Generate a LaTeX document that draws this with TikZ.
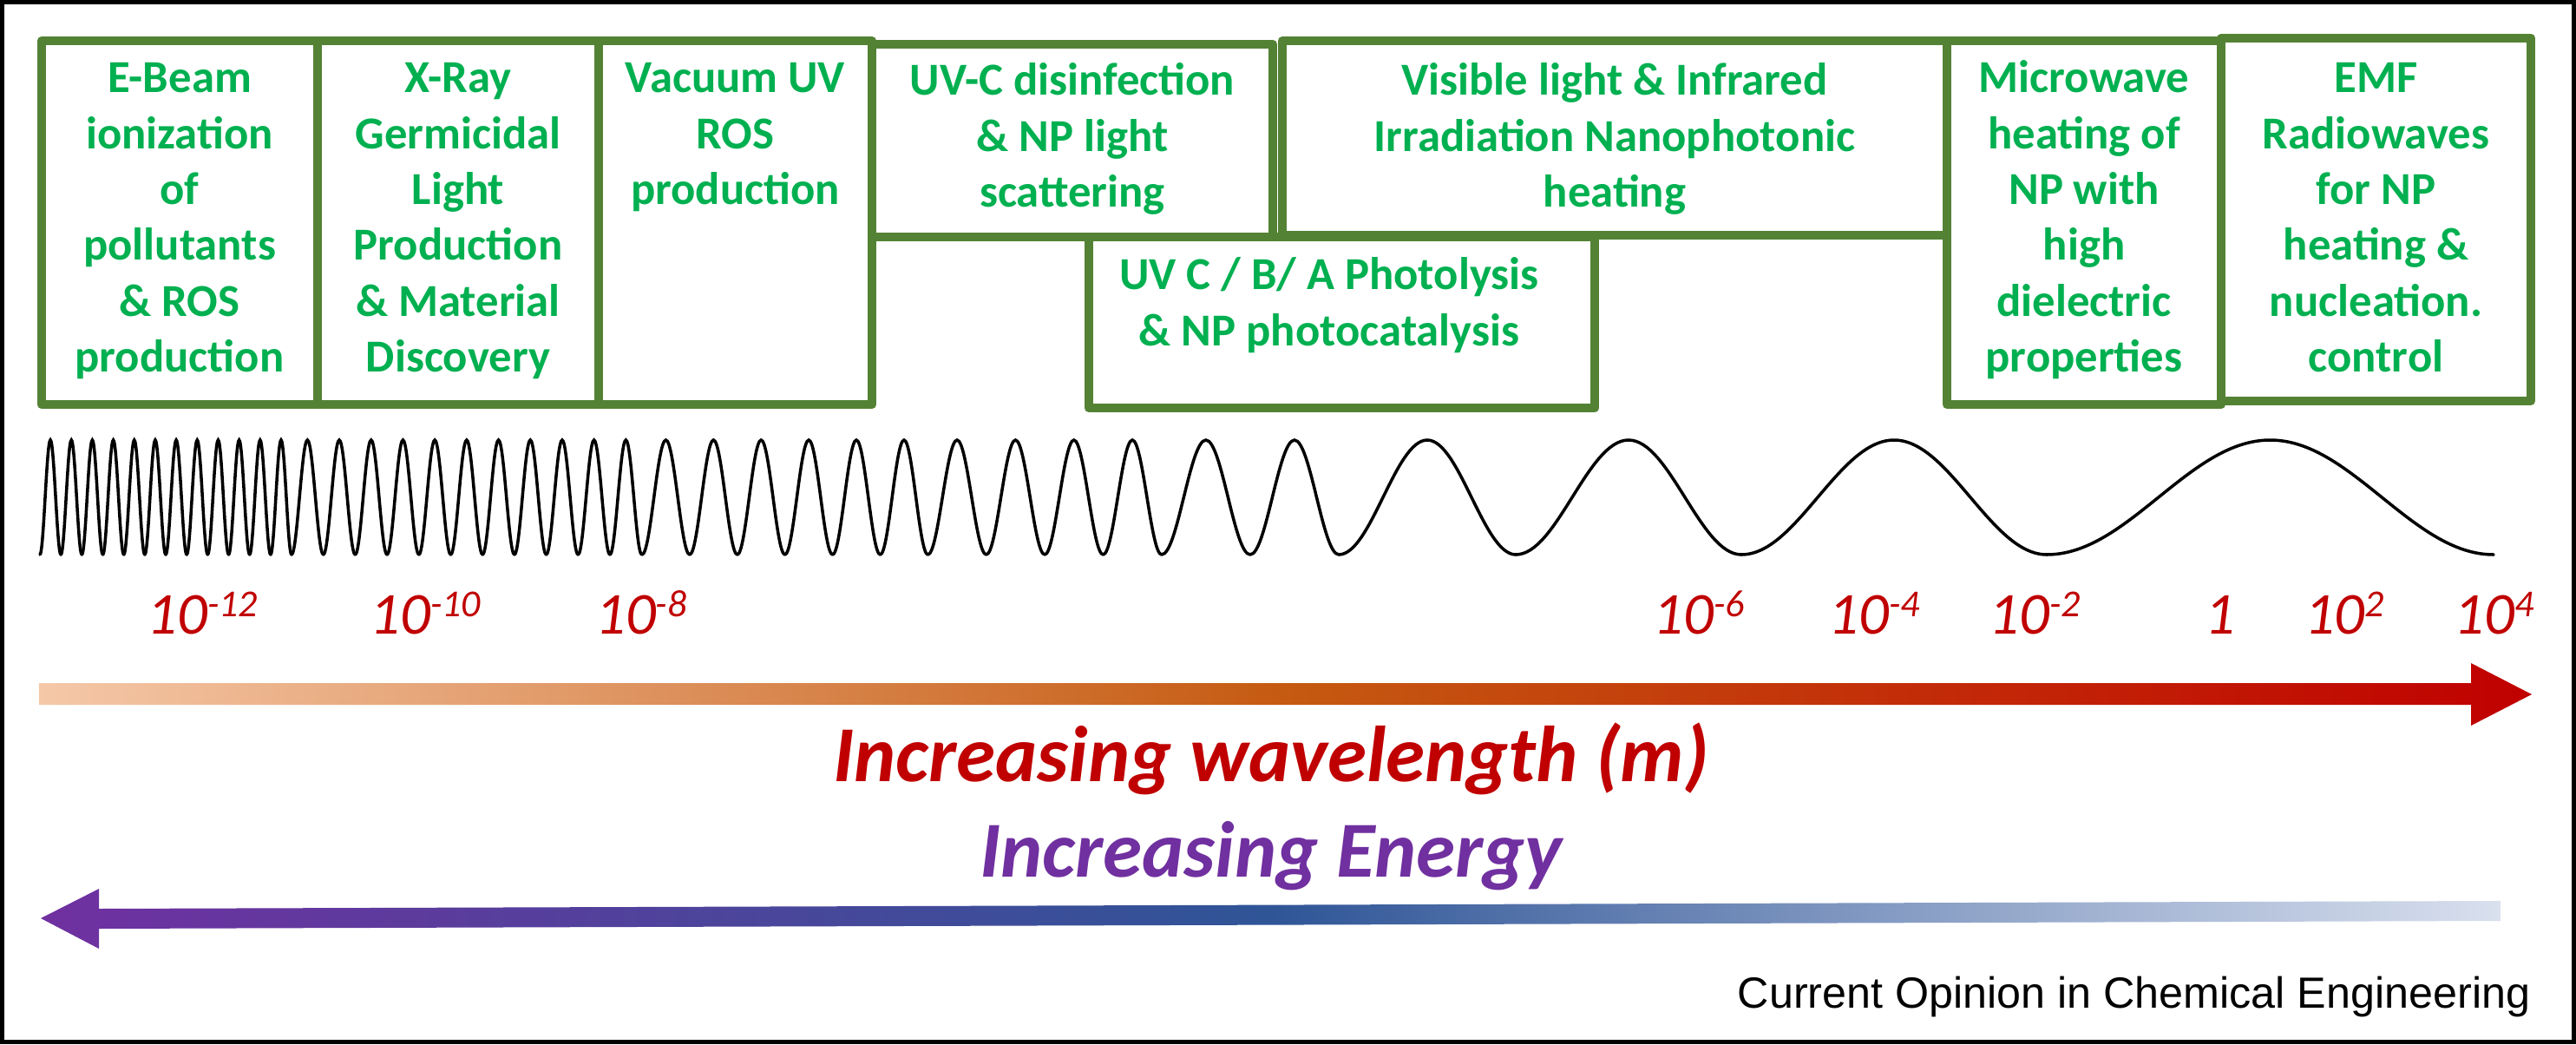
\documentclass[tikz,border=0pt]{standalone}
\usepackage{fontspec}
\setmainfont{Carlito}
\newfontfamily\creditfont{Liberation Sans}
\usetikzlibrary{positioning}

\definecolor{boxgreen}{HTML}{548235}
\definecolor{txtgreen}{HTML}{00B050}
\definecolor{darkred}{HTML}{C00000}
\definecolor{peach}{HTML}{F5C8A8}
\definecolor{rust}{HTML}{C55A11}
\definecolor{energypurple}{HTML}{7030A0}
\definecolor{navy}{HTML}{2F5597}
\definecolor{paleblue}{HTML}{D9E0EE}

\newcommand{\expo}[1]{\raisebox{5.5pt}{\fontsize{12.5}{13}\selectfont#1}}

\begin{document}
\begin{tikzpicture}[x=1cm,y=-1cm,
    panel/.style={draw=boxgreen,line width=3pt,line join=round},
    paneltext/.style={font=\bfseries\fontsize{15}{18.3}\selectfont,text=txtgreen,align=center,anchor=base,inner sep=0pt},
    wl/.style={font=\itshape\fontsize{19.5}{23}\selectfont,text=darkred,anchor=base,inner sep=0pt},
    bigtext/.style={font=\bfseries\itshape\fontsize{26}{31}\selectfont,anchor=base,inner sep=0pt},
    wave/.style={line width=1pt,line cap=round}]
    \useasboundingbox (0,0) rectangle (29.69,12.03);
    \fill[white] (0,0) rectangle (29.69,12.03);
    \draw[line width=0.05cm] (0.025,0.025) rectangle (29.665,12.005);

    % application boxes
    \draw[panel] (0.48,0.47) rectangle (3.66,4.66);
    \draw[panel] (3.66,0.47) rectangle (6.90,4.66);
    \draw[panel] (6.90,0.47) rectangle (10.05,4.66);
    \draw[panel] (10.05,0.51) rectangle (14.67,2.73);
    \draw[panel] (14.78,0.47) rectangle (22.44,2.71);
    \draw[panel] (12.55,2.73) rectangle (18.38,4.70);
    \draw[panel] (22.44,0.47) rectangle (25.60,4.66);
    \draw[panel] (25.60,0.44) rectangle (29.17,4.62);

    % text anchored at the baseline of its last line
    \node[paneltext] (ebeam) at (2.07,4.285) {E-Beam\\ionization\\of\\pollutants\\\& ROS\\production};
    \node[paneltext] (xray) at (5.28,4.285) {X-Ray\\Germicidal\\Light\\Production\\\& Material\\Discovery};
    \node[paneltext] (vacuv) at (8.475,2.355) {Vacuum UV\\ROS\\production};
    \node[paneltext] (uvc) at (12.36,2.385) {UV-C disinfection\\\& NP light\\scattering};
    \node[paneltext] (visir) at (18.61,2.385) {Visible light \& Infrared\\Irradiation Nanophotonic\\heating};
    \node[paneltext] (uvcba) at (15.32,3.98) {UV C / B/ A Photolysis\\\& NP photocatalysis};
    \node[paneltext] (microw) at (24.02,4.285) {Microwave\\heating of\\NP with\\high\\dielectric\\properties};
    \node[paneltext] (emf) at (27.385,4.285) {EMF\\Radiowaves\\for NP\\heating \&\\nucleation.\\control};

    % chirped wave: start/periods/period length
    \foreach \xs/\n/\p in {0.46/12/0.2417, 3.36/11/0.3670, 7.40/6/0.5490, 10.694/4/0.6735,
                           13.388/2/1.021, 15.43/1/2.04, 17.47/1/2.60, 20.07/1/3.52, 23.59/1/5.15}
        \foreach \k in {1,...,\n} {
            \pgfmathsetmacro\xa{\xs+(\k-1)*\p}
            \draw[wave] (\xa,6.39) cos ({\xa+\p/4},5.73) sin ({\xa+\p/2},5.07)
                cos ({\xa+3*\p/4},5.73) sin ({\xa+\p},6.39);
        }

    % wavelength ticks
    \foreach \x/\lbl [count=\i] in {2.335/{10\expo{-12}}, 4.905/{10\expo{-10}}, 7.39/{10\expo{-8}},
                                    19.585/{10\expo{-6}}, 21.605/{10\expo{-4}}, 23.455/{10\expo{-2}},
                                    25.585/{1}, 27.02/{10\expo{2}}, 28.745/{10\expo{4}}}
        \node[wl] (wl\i) at (\x,7.30) {\lbl};

    % arrows
    \shade[left color=peach,right color=darkred,middle color=rust]
        (0.45,7.87) -- (28.48,7.87) -- (28.48,7.64) -- (29.18,8.00) -- (28.48,8.36)
        -- (28.48,8.12) -- (0.45,8.12) -- cycle;
    \shade[left color=energypurple,right color=paleblue,middle color=navy]
        (0.47,10.58) -- (1.14,10.24) -- (1.14,10.47) -- (28.82,10.38) -- (28.82,10.61)
        -- (1.14,10.70) -- (1.14,10.93) -- cycle;

    \node[bigtext,text=darkred] (wavelen) at (14.65,9.00) {Increasing wavelength (m)};
    \node[bigtext,text=energypurple] (energy) at (14.65,10.10) {Increasing Energy};
    \node[font=\creditfont\fontsize{14.3}{17}\selectfont,anchor=base east,inner sep=0pt] (credit) at (29.17,11.61) {Current Opinion in Chemical Engineering};
\end{tikzpicture}
\end{document}
